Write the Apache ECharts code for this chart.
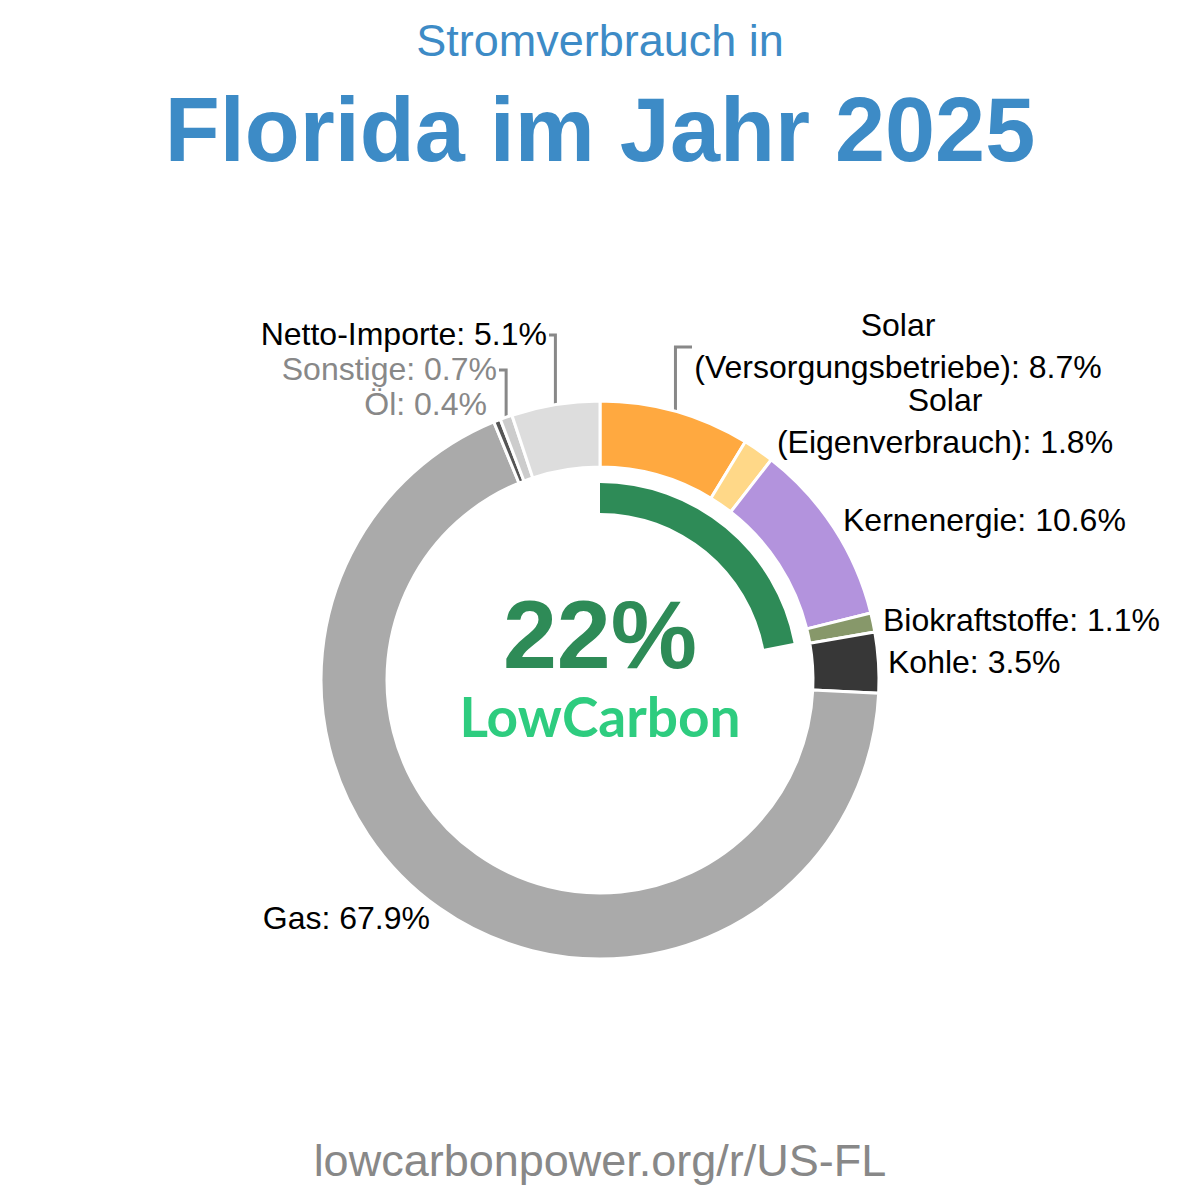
<!DOCTYPE html>
<html lang="de">
<head>
    <meta charset="UTF-8">
    <title>Stromverbrauch in Florida im Jahr 2025</title>
    <script src="https://cdn.jsdelivr.net/npm/echarts@6/dist/echarts.min.js"></script>
    <style>
        html, body { margin: 0; padding: 0; background: #fff; }
        #chart { width: 1200px; height: 1200px; }
    </style>
</head>
<body>
    <div id="chart"></div>

    <script>
        // Data
        const categories = [
            'Solar\n(Versorgungsbetriebe)',
            'Solar\n(Eigenverbrauch)',
            'Kernenergie',
            'Biokraftstoffe',
            'Kohle',
            'Gas',
            'Öl',
            'Sonstige',
            'Netto-Importe'
        ];
        const shares = [8.7, 1.8, 10.6, 1.1, 3.5, 67.9, 0.4, 0.7, 5.1];
        const sliceColors = ['#ffa940', '#ffd888', '#b393dd', '#87986a', '#373737', '#aaaaaa', '#555555', '#cccccc', '#dddddd'];
        const lowCarbonShare = 22;

        // where each label goes (pixels), lineEnd = end of the bracket line
        const labelPlace = [
            { x: 898, y: 346, align: 'center', lineEnd: 692 },
            { x: 945, y: 421, align: 'center' },
            { x: 843, y: 520, align: 'left' },
            { x: 883, y: 620, align: 'left' },
            { x: 888, y: 662, align: 'left' },
            { x: 430, y: 918, align: 'right' },
            { x: 487, y: 404, align: 'right', color: '#888' },
            { x: 497, y: 369, align: 'right', color: '#888', lineEnd: 499 },
            { x: 547, y: 334, align: 'right', lineEnd: 549 }
        ];

        const chart = echarts.init(document.getElementById('chart'), null, { renderer: 'svg' });

        const pieData = categories.map((name, i) => ({
            name: name,
            value: shares[i],
            itemStyle: { color: sliceColors[i] },
            label: { color: labelPlace[i].color || '#000' },
            labelLine: { show: !!labelPlace[i].lineEnd }
        }));

        const option = {
            animation: false,
            backgroundColor: '#ffffff',
            graphic: [
                {
                    type: 'text', x: 600, y: 40,
                    style: {
                        text: 'Stromverbrauch in', fill: '#3d8bc6',
                        font: '45px "Liberation Sans", Arial, sans-serif',
                        align: 'center', verticalAlign: 'middle'
                    }
                },
                {
                    type: 'text', x: 600, y: 130,
                    style: {
                        text: 'Florida im Jahr 2025', fill: '#3d8bc6',
                        font: 'bold 90px "Liberation Sans", Arial, sans-serif',
                        align: 'center', verticalAlign: 'middle'
                    }
                },
                {
                    type: 'text', x: 600, y: 634,
                    style: {
                        text: lowCarbonShare + '%', fill: '#2e8b57',
                        font: 'bold 97px "Liberation Sans", Arial, sans-serif',
                        lineHeight: 76,
                        align: 'center', verticalAlign: 'middle'
                    }
                },
                {
                    type: 'text', x: 600, y: 716,
                    style: {
                        text: 'LowCarbon', fill: '#2ecc7f',
                        font: 'bold 55px Lato, sans-serif',
                        lineHeight: 50,
                        align: 'center', verticalAlign: 'middle'
                    }
                },
                {
                    type: 'text', x: 600, y: 1160,
                    style: {
                        text: 'lowcarbonpower.org/r/US-FL', fill: '#888888',
                        font: '45px "Liberation Sans", Arial, sans-serif',
                        align: 'center', verticalAlign: 'middle'
                    }
                }
            ],
            series: [
                {
                    type: 'pie',
                    center: [600, 680],
                    radius: [213, 279],
                    startAngle: 90,
                    clockwise: true,
                    avoidLabelOverlap: false,
                    silent: true,
                    itemStyle: { borderColor: '#ffffff', borderWidth: 3 },
                    label: {
                        show: true,
                        position: 'outside',
                        formatter: '{b}: {c}%',
                        fontSize: 32,
                        lineHeight: 42,
                        fontFamily: '"Liberation Sans", Arial, sans-serif'
                    },
                    labelLine: {
                        show: true,
                        smooth: false,
                        lineStyle: { color: '#888888', width: 3 }
                    },
                    labelLayout: function (params) {
                        const p = labelPlace[params.dataIndex];
                        const res = { x: p.x, y: p.y, align: p.align, verticalAlign: 'middle', hideOverlap: false };
                        if (p.lineEnd && params.labelLinePoints) {
                            const a = params.labelLinePoints[0];
                            res.labelLinePoints = [a, [a[0], p.y + 1], [p.lineEnd, p.y + 1]];
                        }
                        return res;
                    },
                    data: pieData
                },
                {
                    type: 'pie',
                    center: [600, 680],
                    radius: [167, 197],
                    startAngle: 90,
                    clockwise: true,
                    silent: true,
                    label: { show: false },
                    labelLine: { show: false },
                    data: [
                        { value: lowCarbonShare, itemStyle: { color: '#2e8b57' } },
                        { value: 100 - lowCarbonShare, itemStyle: { color: 'rgba(0,0,0,0)' } }
                    ]
                }
            ]
        };

        chart.setOption(option);
    </script>
</body>
</html>
